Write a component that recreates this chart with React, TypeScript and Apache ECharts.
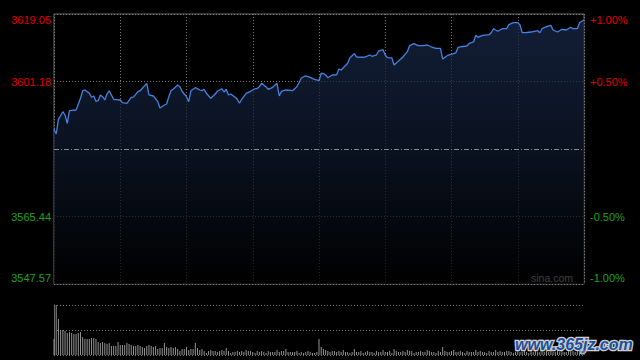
import React, { useEffect, useRef } from "react";
import * as echarts from "echarts";

// ---- data ----
const PREV_CLOSE = 3583.31;
const PRICE_MIN = 3547.57;
const PRICE_MAX = 3619.05;
const priceTicks = [3547.57, 3565.44, 3601.18, 3619.05];

// minute index (0 = 09:30, 120 = 13:00, 240 = 15:00)
const minutes = [
  0, 1, 2, 4, 5, 6, 7, 10, 12, 13, 14, 16, 17, 18, 19, 20, 21, 22, 23, 24, 25, 26, 27, 30, 31, 33, 35, 36, 38, 39,
  42, 43, 45, 47, 48, 50, 51, 52, 53, 54, 56, 57, 58, 59, 60, 61, 62, 64, 66, 67, 68, 69, 71, 73, 74, 76, 77, 78, 79, 80,
  82, 83, 84, 85, 87, 89, 91, 92, 93, 94, 96, 97, 99, 101, 102, 103, 105, 108, 110, 112, 113, 114, 116, 118, 120,
  121, 122, 123, 124, 126, 128, 129, 130, 131, 133, 134, 136, 137, 140, 141, 143, 144, 146, 147, 149, 150, 151, 153,
  154, 156, 158, 160, 161, 163, 165, 167, 169, 171, 173, 175, 176, 178, 179, 181, 182, 183, 185, 187, 188, 190, 191,
  192, 194, 197, 198, 199, 201, 203, 205, 206, 208, 210, 211, 212, 214, 216, 219, 220, 221, 223, 225, 226, 228, 230,
  232, 234, 235, 237, 238, 239, 240,
];
const prices = [
  3588.53, 3587.28, 3591.17, 3593.18, 3592.31, 3590.11, 3593.45, 3593.63, 3596.73, 3598.74, 3598.93, 3598.06, 3597.0,
  3597.34, 3595.94, 3596.1, 3597.61, 3597.16, 3596.28, 3597.87, 3598.74, 3597.61, 3596.47, 3596.28, 3595.57, 3595.41,
  3597.0, 3597.05, 3598.48, 3598.74, 3600.7, 3597.61, 3597.34, 3595.83, 3594.16, 3594.96, 3595.22, 3597.16, 3598.74,
  3599.12, 3600.25, 3599.8, 3598.59, 3597.87, 3597.16, 3595.83, 3598.74, 3599.54, 3598.93, 3598.74, 3599.12, 3598.06,
  3596.73, 3597.87, 3598.59, 3599.27, 3598.4, 3599.12, 3597.61, 3597.87, 3597.0, 3596.47, 3595.41, 3596.47, 3598.06,
  3598.59, 3599.27, 3599.3, 3599.8, 3600.7, 3599.8, 3599.12, 3599.64, 3600.7, 3597.34, 3598.59, 3598.93, 3598.74,
  3599.8, 3602.11, 3602.45, 3602.64, 3602.29, 3601.76, 3601.39, 3603.35, 3603.3, 3602.9, 3602.19, 3602.9, 3602.95,
  3604.49, 3604.22, 3604.83, 3606.0, 3607.48, 3608.54, 3607.67, 3607.6, 3607.7, 3608.2, 3607.85, 3608.2, 3609.25,
  3609.6, 3608.2, 3607.48, 3607.45, 3605.55, 3606.61, 3607.67, 3609.07, 3610.66, 3611.19, 3610.66, 3610.7, 3610.84,
  3610.31, 3609.97, 3609.95, 3607.14, 3608.01, 3608.2, 3608.54, 3608.8, 3610.23, 3610.45, 3610.58, 3611.29, 3611.64,
  3613.41, 3612.88, 3613.41, 3613.57, 3614.1, 3615.16, 3614.47, 3615.16, 3615.2, 3616.22, 3616.75, 3616.75, 3616.22,
  3614.1, 3614.15, 3614.28, 3614.63, 3614.1, 3615.16, 3615.69, 3616.06, 3614.81, 3614.28, 3615.0, 3614.81, 3615.53,
  3615.16, 3615.2, 3616.75, 3617.12, 3617.46,
];

// per-minute volume (relative units, 0..50)
const volumes = [
  16, 50, 36, 25, 25, 24, 22, 23, 22, 21, 21, 22, 23, 18, 16, 16, 16, 17, 17, 16,
  13, 12, 13, 12, 11, 12, 9, 9, 9, 13, 10, 10, 10, 12, 11, 10, 9, 9, 10, 9,
  8, 7, 9, 10, 9, 8, 9, 6, 7, 7, 12, 8, 7, 8, 7, 8, 6, 4, 6, 6,
  8, 5, 6, 6, 12, 7, 5, 6, 4, 2, 4, 5, 4, 4, 3, 4, 5, 4, 7, 4,
  2, 3, 3, 4, 3, 4, 3, 5, 4, 4, 3, 2, 4, 3, 4, 3, 2, 4, 3, 3,
  3, 5, 3, 4, 4, 6, 3, 3, 3, 3, 4, 2, 3, 2, 3, 4, 3, 2, 2, 3,
  16, 8, 6, 5, 4, 3, 4, 4, 3, 4, 3, 5, 3, 3, 2, 3, 6, 3, 3, 4,
  2, 3, 4, 3, 3, 2, 4, 3, 3, 5, 3, 3, 4, 2, 6, 4, 3, 3, 4, 3,
  5, 4, 4, 2, 3, 3, 4, 3, 3, 5, 4, 3, 3, 2, 4, 3, 8, 4, 3, 3,
  4, 5, 3, 3, 4, 3, 2, 4, 3, 3, 3, 5, 3, 4, 3, 3, 2, 4, 3, 3,
  5, 3, 4, 3, 3, 4, 4, 3, 2, 3, 4, 3, 3, 4, 3, 2, 4, 3, 4, 3,
  3, 4, 3, 5, 3, 4, 3, 3, 4, 3, 4, 3, 3, 4, 5, 4, 3, 4, 5, 4,
  5,
];

const FONT = "Arial, 'Liberation Sans', sans-serif";
const RED = "#e00000";
const GREEN = "#1ea01e";

function isMax(v: number) {
  return Math.abs(v - PRICE_MAX) < 0.001;
}
function isMin(v: number) {
  return Math.abs(v - PRICE_MIN) < 0.001;
}
function wrap(v: number, s: string) {
  const up = v > PREV_CLOSE;
  if (isMax(v)) return `{${up ? "tu" : "td"}|${s}}`;
  if (isMin(v)) return `{${up ? "bu" : "bd"}|${s}}`;
  return `{${up ? "u" : "d"}|${s}}`;
}
const rich = {
  tu: { color: RED, fontSize: 11, fontFamily: FONT, padding: [12, 0, 0, 0] },
  td: { color: GREEN, fontSize: 11, fontFamily: FONT, padding: [12, 0, 0, 0] },
  bu: { color: RED, fontSize: 11, fontFamily: FONT, padding: [0, 0, 12, 0] },
  bd: { color: GREEN, fontSize: 11, fontFamily: FONT, padding: [0, 0, 12, 0] },
  u: { color: RED, fontSize: 11, fontFamily: FONT },
  d: { color: GREEN, fontSize: 11, fontFamily: FONT },
};

export default function App() {
  const ref = useRef<HTMLDivElement>(null);

  useEffect(() => {
    const chart = echarts.init(ref.current!, null, { renderer: "svg" });
    const gridColor = "#7a7a7a";
    const dotted = [1, 2];
    chart.setOption({
      animation: false,
      backgroundColor: "#000000",
      grid: [
        { left: 54, top: 14, width: 530, height: 270, show: true, borderColor: "#6a6a6a", borderWidth: 1, backgroundColor: "transparent" },
        { left: 54, top: 305, width: 530, height: 50, show: false },
      ],
      xAxis: [
        {
          gridIndex: 0,
          type: "value",
          min: 0,
          max: 240,
          interval: 30,
          axisLine: { show: false },
          axisTick: { show: false },
          axisLabel: { show: false },
          splitLine: { show: true, lineStyle: { color: gridColor, type: dotted, width: 1 } },
        },
        {
          gridIndex: 1,
          type: "value",
          min: 0,
          max: 240,
          axisLine: { show: false },
          axisTick: { show: false },
          axisLabel: { show: false },
          splitLine: { show: false },
        },
      ],
      yAxis: [
        {
          gridIndex: 0,
          type: "value",
          position: "left",
          min: PRICE_MIN,
          max: PRICE_MAX,
          axisLine: { show: false },
          axisTick: { show: false, customValues: priceTicks },
          axisLabel: {
            customValues: priceTicks,
            margin: 3,
            fontFamily: FONT,
            fontSize: 11,
            formatter: (v: number) => wrap(v, v.toFixed(2)),
            rich,
          },
          splitLine: { show: true, lineStyle: { color: gridColor, type: dotted, width: 1 } },
        },
        {
          gridIndex: 0,
          type: "value",
          position: "right",
          min: PRICE_MIN,
          max: PRICE_MAX,
          axisLine: { show: false },
          axisTick: { show: false, customValues: priceTicks },
          axisLabel: {
            customValues: priceTicks,
            margin: 6,
            fontFamily: FONT,
            fontSize: 11,
            formatter: (v: number) => {
              const p = (v / PREV_CLOSE - 1) * 100;
              return wrap(v, (p > 0 ? "+" : "") + p.toFixed(2) + "%");
            },
            rich,
          },
          splitLine: { show: false },
        },
        {
          gridIndex: 1,
          type: "value",
          position: "right",
          min: 0,
          max: 50,
          interval: 25,
          axisLine: { show: true, lineStyle: { color: "#6a6a6a", width: 1 } },
          axisTick: { show: false },
          axisLabel: { show: false },
          splitLine: { show: true, lineStyle: { color: gridColor, type: dotted, width: 1 } },
        },
      ],
      series: [
        {
          type: "line",
          xAxisIndex: 0,
          yAxisIndex: 0,
          data: minutes.map((m, i) => [m, prices[i]]),
          symbol: "none",
          lineStyle: { color: "#4682e2", width: 1.3 },
          areaStyle: {
            origin: "start",
            color: new echarts.graphic.LinearGradient(0, 0, 0, 1, [
              { offset: 0, color: "#1a2b4d" },
              { offset: 0.5, color: "#0e182c" },
              { offset: 1, color: "#000000" },
            ]),
          },
          markLine: {
            silent: true,
            symbol: ["none", "none"],
            label: { show: false },
            lineStyle: { color: "#8a8a8a", type: [5, 2, 1, 2], width: 1 },
            data: [{ yAxis: PREV_CLOSE }],
          },
        },
        {
          type: "bar",
          xAxisIndex: 1,
          yAxisIndex: 2,
          data: volumes.map((v, i) => [i, v]),
          barWidth: 1,
          itemStyle: { color: "#939393" },
        },
      ],
      graphic: [
        {
          type: "text",
          right: 67,
          top: 272,
          style: { text: "sina.com", fill: "#cccccc", font: `10.5px ${FONT}` },
        },
        {
          type: "text",
          right: 6,
          top: 335,
          style: {
            text: "www.365jz.com",
            font: "italic bold 16px 'Liberation Sans', Arial, sans-serif",
            fill: "#1d4f9c",
            stroke: "#d0d0d0",
            lineWidth: 2.5,
          },
        },
      ],
    });
    return () => chart.dispose();
  }, []);

  return (
    <div
      ref={ref}
      style={{ position: "fixed", left: 0, top: 0, width: 640, height: 360, background: "#000" }}
    />
  );
}
